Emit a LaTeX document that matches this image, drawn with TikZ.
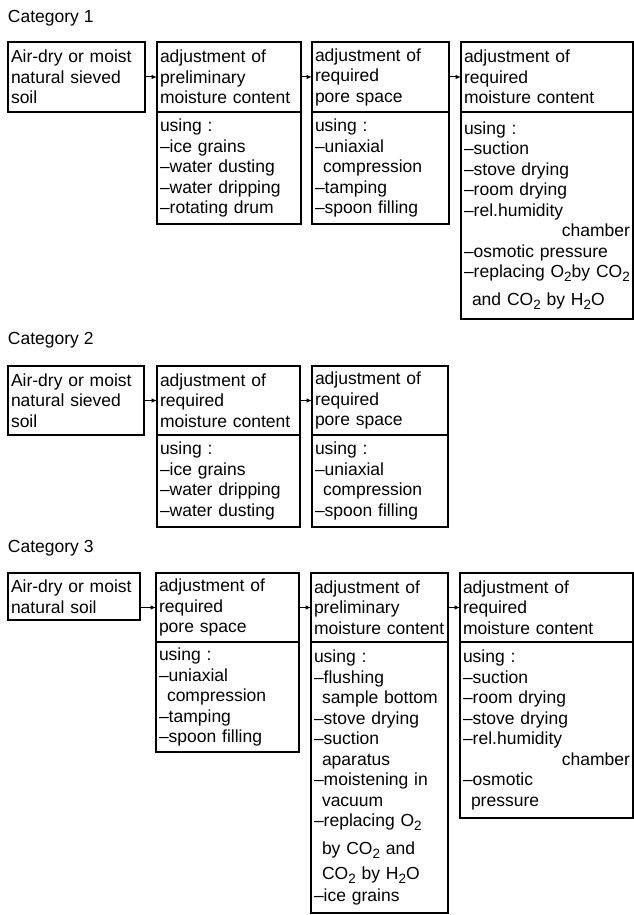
\documentclass[tikz,border=0pt]{standalone}
\usepackage{fontspec}
\setmainfont{Liberation Sans}
\usetikzlibrary{arrows.meta,positioning}
\newcommand{\lowsub}[1]{\raisebox{-4pt}{\fontsize{13.5}{13.5}\selectfont #1}}

\begin{document}
\begin{tikzpicture}[x=1pt, y=-1pt, >={Latex[length=5.5pt,width=4.5pt]}, node distance=0pt and 12pt,
 every node/.style={font=\fontsize{17.5}{20.5}\selectfont, align=left, inner xsep=3pt, inner ysep=0pt, outer sep=0pt},
 cat/.style={anchor=base west, inner sep=0pt},
 soil/.style={draw, line width=1.2pt, minimum height=70pt},
 head/.style={draw, line width=1.2pt, minimum height=70pt},
 using/.style={draw, line width=1.2pt, below=0pt of #1},
 link/.style={->, line width=1pt}]
\useasboundingbox (0,0) rectangle (634,915);
% Category 1
\node[cat] (cat1) at (8,23) {Category 1};
\node[soil, text width=131pt, anchor=north west] (a1) at (8,42) {Air-dry or moist\\natural sieved\\soil};
\node[head, text width=138pt, right=of a1] (b1) {adjustment of\\preliminary\\moisture content};
\node[head, text width=131pt, right=11pt of b1] (c1) {adjustment of\\required\\pore space};
\node[head, text width=166pt, right=of c1] (d1) {adjustment of\\required\\moisture content};
\node[using=b1, text width=138pt, minimum height=112pt] (b1u) {using :\\--ice grains\\--water dusting\\--water dripping\\--rotating drum};
\node[using=c1, text width=131pt, minimum height=112pt] (c1u) {using :\\--uniaxial\\\hspace*{8pt}compression\\--tamping\\--spoon filling};
\node[using=d1, text width=166pt, minimum height=207pt] (d1u) {using :\\--suction\\--stove drying\\--room drying\\--rel.humidity\\\hspace*{\fill}chamber\\--osmotic pressure\\--replacing O\lowsub{2}by CO\lowsub{2}\\[7.5pt]\hspace*{8pt}and CO\lowsub{2} by H\lowsub{2}O};
\draw[link] (a1) -- (b1);
\draw[link] (b1) -- (c1);
\draw[link] (c1) -- (d1);
% Category 2
\node[cat] (cat2) at (8,344) {Category 2};
\node[soil, text width=130pt, minimum height=69pt, anchor=north west] (a2) at (8,366) {Air-dry or moist\\natural sieved\\soil};
\node[head, text width=137pt, minimum height=69pt, right=13pt of a2] (b2) {adjustment of\\required\\moisture content};
\node[head, text width=130pt, minimum height=69pt, right=of b2] (c2) {adjustment of\\required\\pore space};
\node[using=b2, text width=137pt, minimum height=92pt] (b2u) {using :\\--ice grains\\--water dripping\\--water dusting};
\node[using=c2, text width=130pt, minimum height=92pt] (c2u) {using :\\--uniaxial\\\hspace*{8pt}compression\\--spoon filling};
\draw[link] (a2) -- (b2);
\draw[link] (b2) -- (c2);
% Category 3
\node[cat] (cat3) at (8,552) {Category 3};
\node[soil, text width=126pt, minimum height=47pt, anchor=north west] (a3) at (8,573) {Air-dry or moist\\natural soil};
\node[head, text width=137pt, minimum height=69pt, right=16pt of a3.north east, anchor=north west] (b3) {adjustment of\\required\\pore space};
\node[head, text width=131pt, minimum height=69pt, right=of b3] (c3) {adjustment of\\preliminary\\moisture content};
\node[head, text width=167pt, minimum height=69pt, right=of c3] (d3) {adjustment of\\required\\moisture content};
\node[using=b3, text width=137pt, minimum height=110pt] (b3u) {using :\\--uniaxial\\\hspace*{8pt}compression\\--tamping\\--spoon filling};
\node[using=c3, text width=131pt, minimum height=271pt] (c3u) {using :\\--flushing\\\hspace*{8pt}sample bottom\\--stove drying\\--suction\\\hspace*{8pt}aparatus\\--moistening in\\\hspace*{8pt}vacuum\\--replacing O\lowsub{2}\\[7.5pt]\hspace*{8pt}by CO\lowsub{2} and\\[4.5pt]\hspace*{8pt}CO\lowsub{2} by H\lowsub{2}O\\[1.5pt]--ice grains};
\node[using=d3, text width=167pt, minimum height=176pt] (d3u) {using :\\--suction\\--room drying\\--stove drying\\--rel.humidity\\\hspace*{\fill}chamber\\--osmotic\\\hspace*{8pt}pressure};
\draw[link] (a3.east |- b3.west) -- (b3);
\draw[link] (b3) -- (c3);
\draw[link] (c3) -- (d3);
\end{tikzpicture}
\end{document}
